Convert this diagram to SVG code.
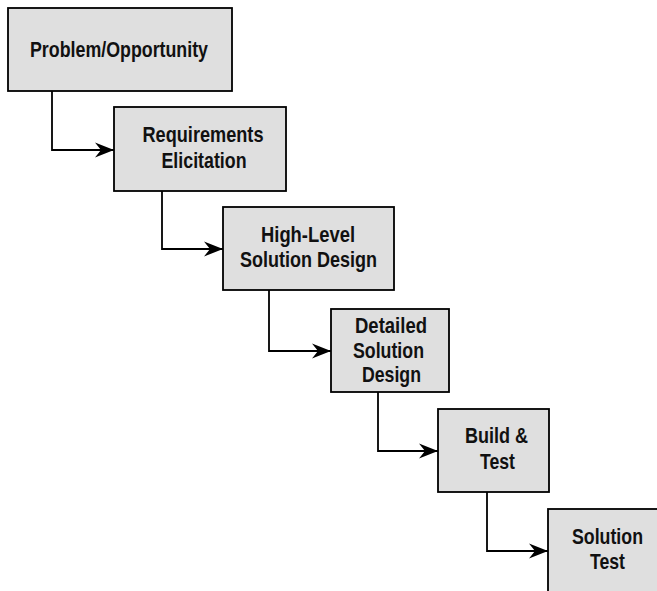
<svg xmlns="http://www.w3.org/2000/svg" width="657" height="591" viewBox="0 0 657 591">
<style>
.box{fill:#dfdfdf;stroke:#000;stroke-width:1.8}
.lbl{font-family:"Liberation Sans Narrow","Arial Narrow","Liberation Sans",sans-serif;font-weight:bold;font-size:22px;fill:#111;text-anchor:middle}
.con{fill:none;stroke:#000;stroke-width:1.8}
</style>
<defs>
<marker id="arr" viewBox="-20 -8 21 16" markerWidth="21" markerHeight="16" refX="0" refY="0" markerUnits="userSpaceOnUse" orient="auto">
<path d="M0,0 L-19,-7.5 L-13,0 L-19,7.5 Z" fill="#000"/>
</marker>
</defs>
<rect width="657" height="591" fill="#fff"/>
<g id="connectors">
<path class="con" d="M52,91 V150 H114" marker-end="url(#arr)"/>
<path class="con" d="M162,191 V249 H223" marker-end="url(#arr)"/>
<path class="con" d="M269,290 V351 H331" marker-end="url(#arr)"/>
<path class="con" d="M378,392 V451 H438" marker-end="url(#arr)"/>
<path class="con" d="M487,492 V551 H548" marker-end="url(#arr)"/>
</g>
<g id="n1">
<rect class="box" x="8" y="8" width="224" height="83"/>
<text class="lbl" x="119" y="57" textLength="178" lengthAdjust="spacingAndGlyphs">Problem/Opportunity</text>
</g>
<g id="n2">
<rect class="box" x="114" y="107" width="172" height="84"/>
<text class="lbl" x="203" y="142" textLength="121" lengthAdjust="spacingAndGlyphs">Requirements</text>
<text class="lbl" x="204" y="168" textLength="85" lengthAdjust="spacingAndGlyphs">Elicitation</text>
</g>
<g id="n3">
<rect class="box" x="223" y="207" width="171" height="83"/>
<text class="lbl" x="308" y="242" textLength="94" lengthAdjust="spacingAndGlyphs">High-Level</text>
<text class="lbl" x="308.5" y="267" textLength="137" lengthAdjust="spacingAndGlyphs">Solution Design</text>
</g>
<g id="n4">
<rect class="box" x="331" y="309" width="118" height="83"/>
<text class="lbl" x="391" y="333" textLength="72" lengthAdjust="spacingAndGlyphs">Detailed</text>
<text class="lbl" x="388.5" y="358" textLength="71" lengthAdjust="spacingAndGlyphs">Solution</text>
<text class="lbl" x="391.5" y="382" textLength="59" lengthAdjust="spacingAndGlyphs">Design</text>
</g>
<g id="n5">
<rect class="box" x="438" y="409" width="111" height="83"/>
<text class="lbl" x="496.5" y="443" textLength="63" lengthAdjust="spacingAndGlyphs">Build &amp;</text>
<text class="lbl" x="497.5" y="469" textLength="35" lengthAdjust="spacingAndGlyphs">Test</text>
</g>
<g id="n6">
<rect class="box" x="548" y="509" width="118" height="90"/>
<text class="lbl" x="607.5" y="544" textLength="71" lengthAdjust="spacingAndGlyphs">Solution</text>
<text class="lbl" x="607.5" y="569" textLength="35" lengthAdjust="spacingAndGlyphs">Test</text>
</g>
</svg>
